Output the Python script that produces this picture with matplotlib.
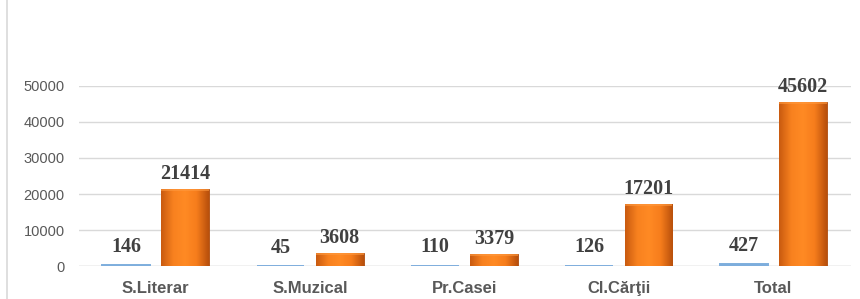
import matplotlib
matplotlib.use("Agg")
import matplotlib.pyplot as plt
import numpy as np
from matplotlib.patches import Rectangle
from matplotlib.colors import LinearSegmentedColormap

categories = ["S.Literar", "S.Muzical", "Pr.Casei", "Cl.Cărţii", "Total"]
series_blue = [146, 45, 110, 126, 427]
series_orange = [21414, 3608, 3379, 17201, 45602]
yticks = [0, 10000, 20000, 30000, 40000, 50000]

fig = plt.figure(figsize=(8.6, 2.99), dpi=100)
# chart area border (left and top visible)
fig.patches.append(Rectangle((0.0087, -0.1), 1.2, 1.1565, transform=fig.transFigure,
                             fill=False, edgecolor="#D9D9D9", linewidth=1.2))

ax = fig.add_axes([78.5 / 860, 33 / 299, 772 / 860, 180 / 299])
x = np.arange(len(categories))
w = 0.31
off = 0.192

ax.bar(x - off, series_blue, width=w, color="#5B9BD5", edgecolor="#7EAEDD",
       linewidth=1.4, zorder=3)
bars = ax.bar(x + off, series_orange, width=w, color="#F47C20",
              edgecolor="#A9480C", linewidth=0.6, zorder=3)

# gradient/bevel look on orange bars
cmap = LinearSegmentedColormap.from_list("bev", ["#C95B10", "#F8811F", "#FF8A24", "#F67D1C", "#B9500C"])
grad = np.linspace(0, 1, 64).reshape(1, -1)
for b in bars:
    bx, by, bw, bh = b.get_x(), b.get_y(), b.get_width(), b.get_height()
    im = ax.imshow(grad, cmap=cmap, aspect="auto", extent=(bx, bx + bw, by, by + bh),
                   zorder=3.5, interpolation="bicubic")
    im.set_clip_path(b)
    ax.add_patch(Rectangle((bx, by + bh - 600), bw, 600, facecolor="#FF9A40",
                           edgecolor="none", zorder=3.6, alpha=0.6))

lab_kw = dict(ha="center", va="bottom", fontsize=14.5, fontweight="bold",
              family="Liberation Serif", color="#404040", clip_on=False, zorder=5)
for xi, v in zip(x, series_blue):
    ax.annotate(f"{v}", (xi - off, v), xytext=(0, 6), textcoords="offset points", **lab_kw)
for xi, v in zip(x, series_orange):
    ax.annotate(f"{v}", (xi + off, v), xytext=(0, 3.5), textcoords="offset points", **lab_kw)

ax.set_xlim(-0.5, len(categories) - 0.5)
ax.set_ylim(0, 50000)
ax.set_yticks(yticks)
ax.set_yticklabels([str(t) for t in yticks], family="Liberation Sans", fontsize=10.5, color="#595959")
ax.set_xticks(x)
ax.set_xticklabels(categories, family="Liberation Sans", fontsize=12, fontweight="bold", color="#595959")
ax.tick_params(axis="y", length=0, pad=10)
ax.tick_params(axis="x", length=0, pad=10.5)
ax.grid(axis="y", color="#D9D9D9", linewidth=1, zorder=0)
for s in ax.spines.values():
    s.set_visible(False)
ax.axhline(0, color="#D9D9D9", linewidth=1, zorder=1)

fig.savefig("out.png", dpi=100)
